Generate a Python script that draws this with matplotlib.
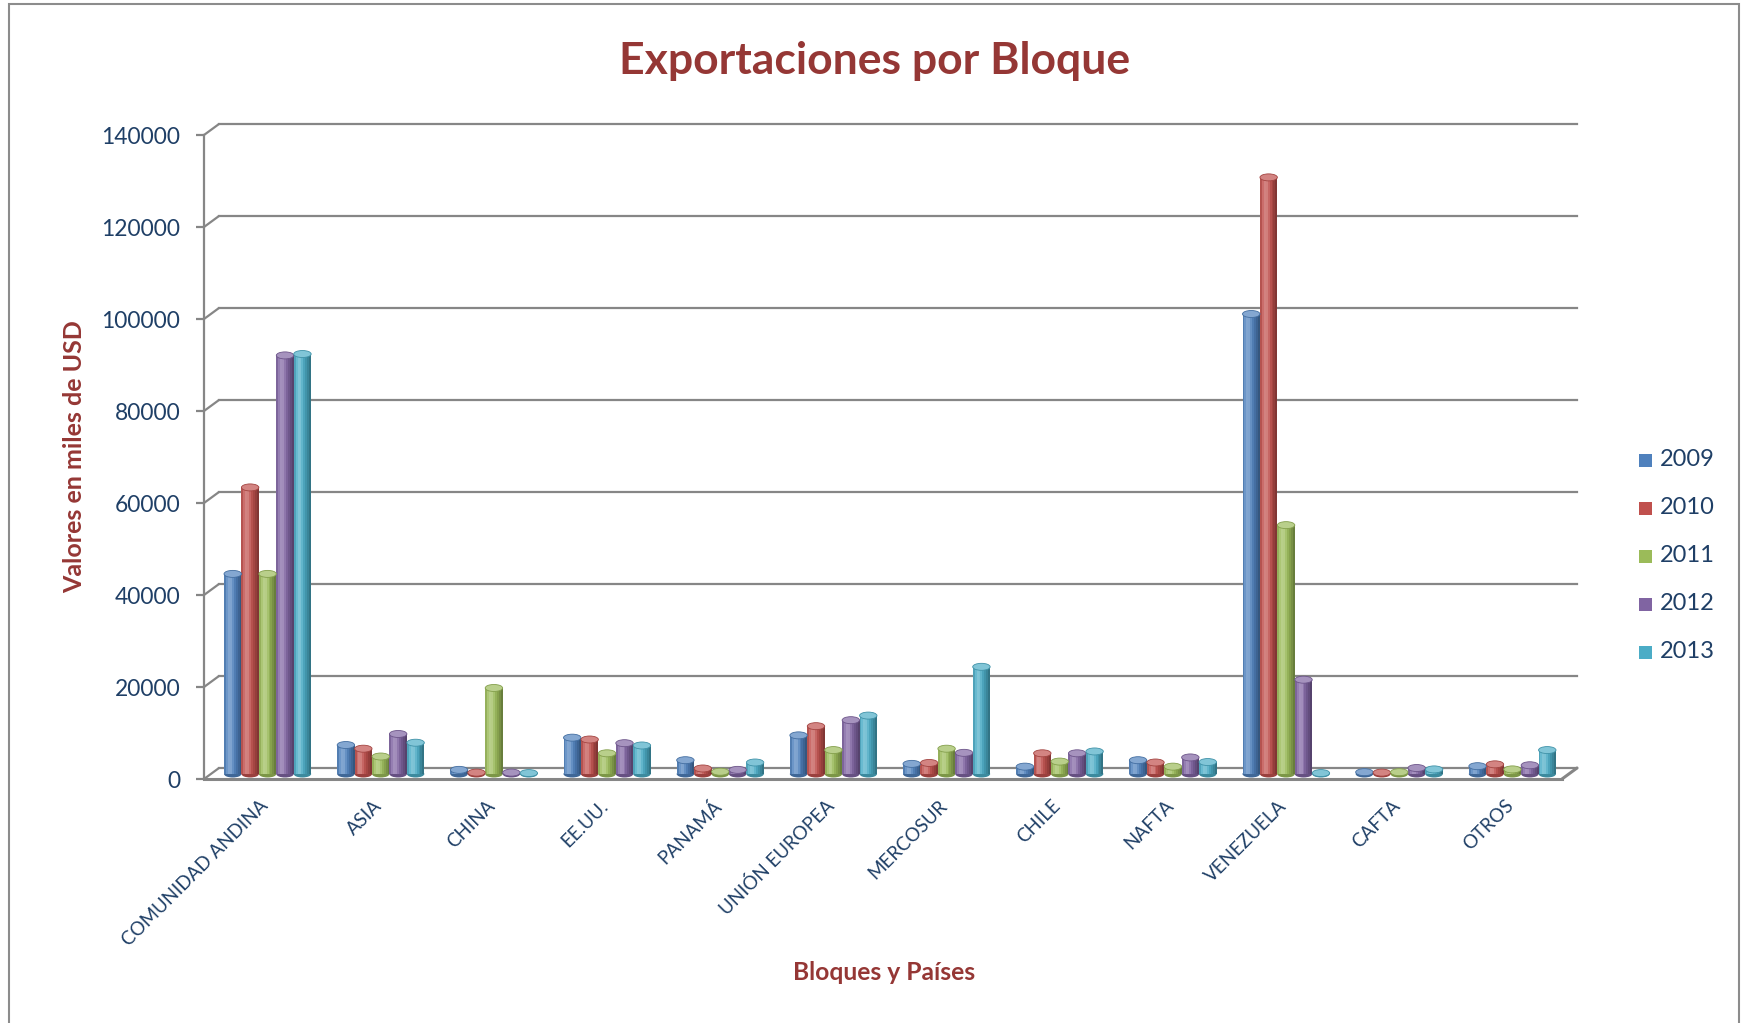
import numpy as np
import matplotlib.pyplot as plt
import matplotlib.colors as mcolors
from matplotlib.transforms import offset_copy
from matplotlib.patches import Ellipse, Rectangle

plt.rcParams['font.family'] = ['Lato', 'DejaVu Sans']

# Datos (miles de USD)
categorias = ['COMUNIDAD ANDINA', 'ASIA', 'CHINA', 'EE.UU.', 'PANAMÁ', 'UNIÓN EUROPEA',
              'MERCOSUR', 'CHILE', 'NAFTA', 'VENEZUELA', 'CAFTA', 'OTROS']
anios = ['2009', '2010', '2011', '2012', '2013']
v2009 = [43500, 6300, 900, 7900, 3000, 8400, 2200, 1600, 3000, 100000, 400, 1700]
v2010 = [62300, 5500, 300, 7500, 1200, 10400, 2400, 4500, 2500, 129700, 300, 2100]
v2011 = [43500, 3800, 18700, 4500, 500, 5200, 5500, 2700, 1600, 54100, 400, 1000]
v2012 = [91000, 8700, 300, 6700, 900, 11700, 4600, 4500, 3600, 20500, 1300, 1900]
v2013 = [91300, 6800, 200, 6200, 2500, 12700, 23300, 4900, 2600, 200, 1000, 5200]
series = [v2009, v2010, v2011, v2012, v2013]
colores = ['#4F81BD', '#C0504D', '#9BBB59', '#8064A2', '#4BACC6']
yticks = np.arange(0, 140001, 20000)

W, H = 1741, 1023
rojo = '#953735'
azul = '#1F3F66'
gris = '#868686'

fig = plt.figure(figsize=(W / 100, H / 100), dpi=100)
ax = fig.add_axes([204 / W, (H - 779) / H, (1562 - 204) / W, (779 - 135) / H])
ax.set_xlim(-0.5, len(categorias) - 0.5)
ax.set_ylim(0, 140000)
ax.patch.set_visible(False)
for s in ['top', 'right']:
    ax.spines[s].set_visible(False)
ax.spines['left'].set_color(gris)
ax.spines['left'].set_linewidth(1.6)
ax.spines['bottom'].set_color(gris)
ax.spines['bottom'].set_linewidth(2.2)
ax.set_xticks([])
ax.set_yticks(yticks)
ax.set_yticklabels([str(v) for v in yticks])
ax.tick_params(axis='y', length=6, width=1.6, color=gris, pad=11, labelsize=16.4, labelcolor=azul)

# pared de fondo (lineas de cuadricula desplazadas) y diagonales
tr_back = offset_copy(ax.transData, fig=fig, x=15, y=11, units='dots')
for v in yticks:
    ax.plot([-0.5, len(categorias) - 0.5], [v, v], color=gris, lw=1.6, transform=tr_back,
            clip_on=False, zorder=0.5)
    ax.annotate('', xy=(-0.5, v), xytext=(15, 11), textcoords='offset pixels',
                arrowprops=dict(arrowstyle='-', color=gris, lw=1.6, shrinkA=0, shrinkB=0),
                annotation_clip=False)
ax.annotate('', xy=(len(categorias) - 0.5, 0), xytext=(15, 11), textcoords='offset pixels',
            arrowprops=dict(arrowstyle='-', color=gris, lw=2.2, shrinkA=0, shrinkB=0),
            annotation_clip=False)

# barras tipo cilindro
tr_bar = offset_copy(ax.transData, fig=fig, x=7, y=5, units='dots')
x = np.arange(len(categorias))
bw = 0.77 / 5
nsl = 9
t = (np.arange(nsl) + 0.5) / nsl
luz = 0.3 * np.exp(-((t - 0.32) / 0.2) ** 2)
sombra = 0.38 * np.clip((t - 0.45) / 0.55, 0, 1) ** 1.4 + 0.12 * np.clip((0.15 - t) / 0.15, 0, 1)
eh = 7 * 140000 / 644

for j, (vals, c) in enumerate(zip(series, colores)):
    base = np.array(mcolors.to_rgb(c))
    xl = x + (j - 2.5) * bw
    for i, v in enumerate(vals):
        e = Ellipse((xl[i] + bw / 2, 0), bw, eh, color=base * 0.8, lw=0, transform=tr_bar, zorder=2)
        ax.add_patch(e)
    for k in range(nsl):
        col = base * (1 - sombra[k]) + (1 - base) * luz[k]
        bars = ax.bar(xl + k * bw / nsl, vals, width=bw / nsl * 1.05, align='edge',
                      color=col, lw=0, zorder=3)
        for b in bars:
            b.set_transform(tr_bar)
            b.set_clip_on(False)
    for i, v in enumerate(vals):
        top = base + (1 - base) * 0.3
        e = Ellipse((xl[i] + bw / 2, v), bw, eh, facecolor=top, edgecolor=base * 0.85,
                    lw=0.6, transform=tr_bar, zorder=4)
        ax.add_patch(e)

# etiquetas de categorias
tr_lab = offset_copy(ax.transData, fig=fig, x=-1, y=-18, units='dots')
for i, cat in enumerate(categorias):
    ax.text(i, 0, cat, transform=tr_lab, rotation=45, rotation_mode='anchor',
            ha='right', va='top', fontsize=13.5, color=azul)

# titulos
fig.text(875 / W, 1 - 74 / H, 'Exportaciones por Bloque', ha='center', va='baseline',
         fontsize=32, fontweight='bold', color=rojo)
fig.text(75 / W, 1 - 457 / H, 'Valores en miles de USD', rotation=90, ha='center',
         va='center', fontsize=18, fontweight='bold', color=rojo)
fig.text(884 / W, 1 - 973 / H, 'Bloques y Países', ha='center', va='center',
         fontsize=17.7, fontweight='bold', color=rojo)

# leyenda
for j, (a, c) in enumerate(zip(anios, colores)):
    yc = 460 + j * 48
    fig.patches.append(Rectangle((1639 / W, 1 - (yc + 6.5) / H), 13 / W, 13 / H,
                                 transform=fig.transFigure, facecolor=c, edgecolor='none'))
    fig.text(1660 / W, 1 - yc / H, a, ha='left', va='center', fontsize=17, color=azul)

# marco exterior
fig.patches.append(Rectangle((9 / W, -0.05), (1739 - 9) / W, 1.05 - 4 / H,
                             transform=fig.transFigure, fill=False, edgecolor='#8c8c8c',
                             lw=1.5, clip_on=False))

fig.savefig('out.png', dpi=100)
